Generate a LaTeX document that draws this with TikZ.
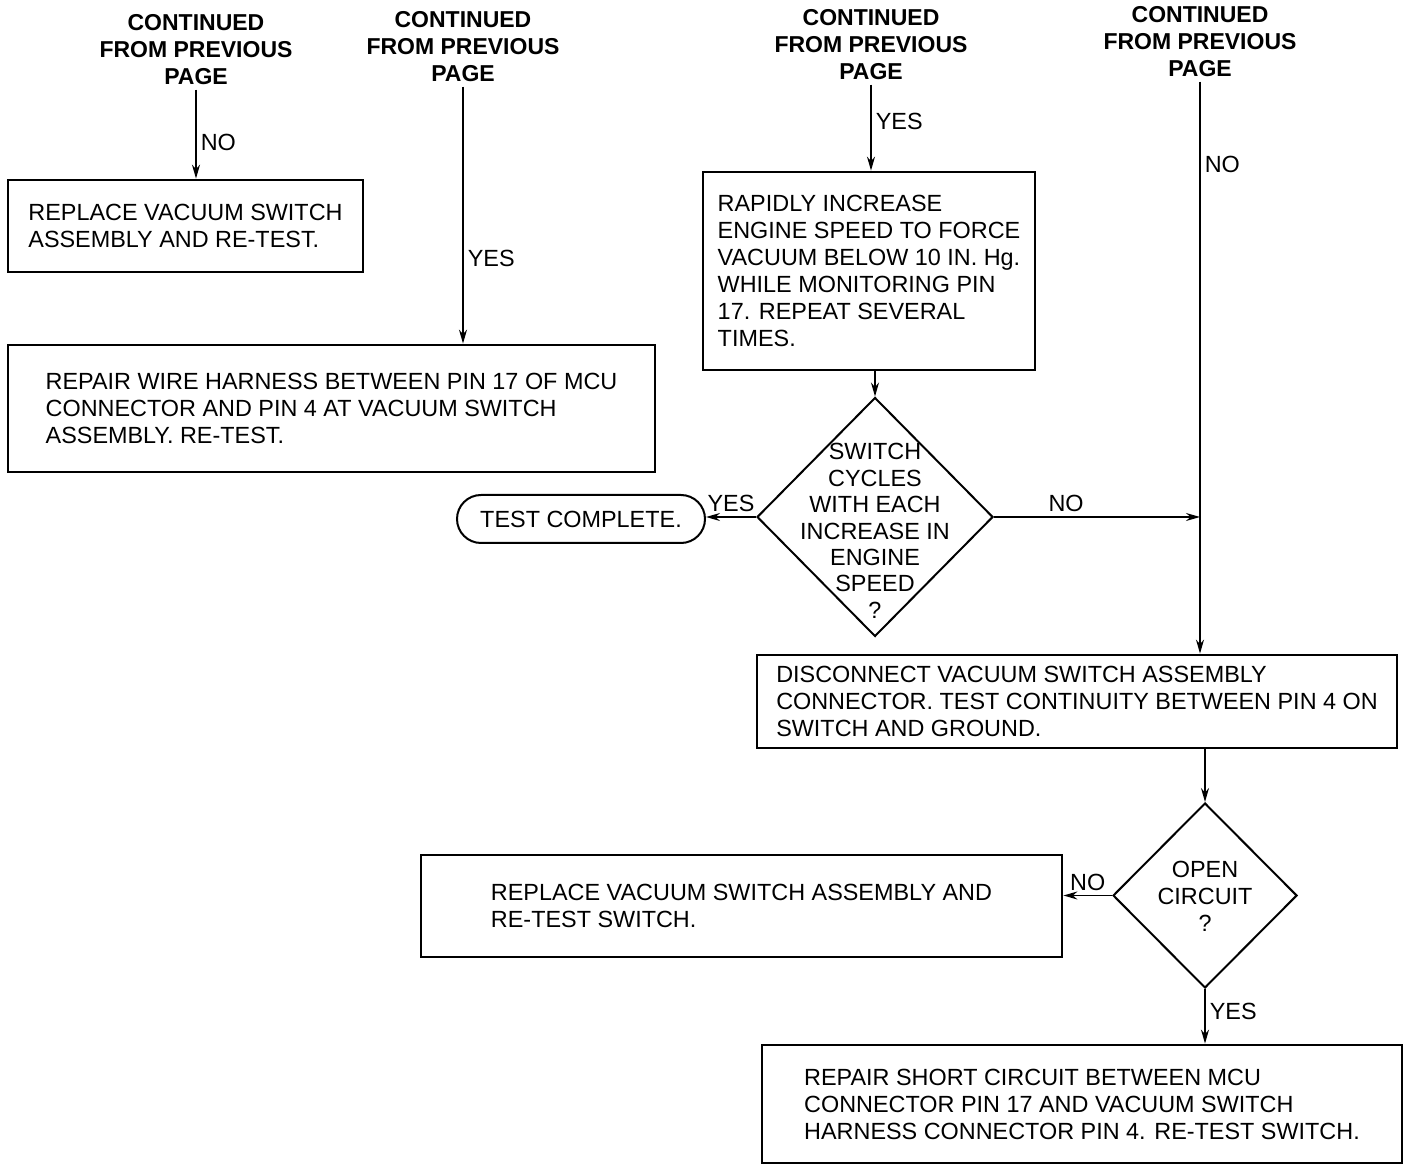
\documentclass[tikz,border=0pt]{standalone}
\usepackage{fontspec}
\setmainfont{Liberation Sans}
\usetikzlibrary{shapes.geometric,arrows.meta,calc}

\begin{document}
\begin{tikzpicture}[
        x=0.5pt, y=-0.5pt,
        every node/.style={font=\fontsize{11.7}{13.5}\selectfont},
        header/.style={align=center, inner sep=2pt, font=\bfseries\fontsize{11.5}{13.5}\selectfont},
        action/.style={draw, rectangle, line width=1.4pt, align=left, inner sep=0pt},
        decision/.style={draw, diamond, line width=1pt, inner sep=0pt},
        terminal/.style={draw, rectangle, rounded corners=12pt, line width=1pt, minimum width=124pt, minimum height=24pt},
        arrow/.style={-{Stealth[length=7pt,width=4pt]}, line width=0.8pt},
        lbl/.style={inner sep=2pt}
    ]
        \useasboundingbox (0,0) rectangle (1404,1165);

        % entries from the previous page
        \node[header] (from1) at (196,50) {CONTINUED\\FROM PREVIOUS\\PAGE};
        \node[header] (from2) at (463,47) {CONTINUED\\FROM PREVIOUS\\PAGE};
        \node[header] (from3) at (871,45) {CONTINUED\\FROM PREVIOUS\\PAGE};
        \node[header] (from4) at (1200,42) {CONTINUED\\FROM PREVIOUS\\PAGE};

        % steps
        \node[action, minimum width=177.5pt, minimum height=46pt] (replace1) at (185.5,226) {REPLACE VACUUM SWITCH\\ASSEMBLY AND RE-TEST.};
        \node[action, minimum width=323.5pt, minimum height=63.5pt] (repairwire) at (331.5,408.5) {REPAIR WIRE HARNESS BETWEEN PIN 17 OF MCU\\CONNECTOR AND PIN 4 AT VACUUM SWITCH\\ASSEMBLY. RE-TEST.};
        \node[action, minimum width=166pt, minimum height=99pt] (rapid) at (869,271) {RAPIDLY INCREASE\\ENGINE SPEED TO FORCE\\VACUUM BELOW 10 IN. Hg.\\WHILE MONITORING PIN\\17. REPEAT SEVERAL\\TIMES.};
        \node[decision, minimum width=118pt, minimum height=119.5pt] (cycles) at (875,517) {};
        \node[align=center, font=\fontsize{11.7}{13.2}\selectfont] (cyclestext) at (875,531) {SWITCH\\CYCLES\\WITH EACH\\INCREASE IN\\ENGINE\\SPEED\\?};
        \node[terminal] (done) at (581,519) {TEST COMPLETE.};
        \node[action, minimum width=320pt, minimum height=46.5pt] (disconnect) at (1077,701.5) {DISCONNECT VACUUM SWITCH ASSEMBLY\\CONNECTOR. TEST CONTINUITY BETWEEN PIN 4 ON\\SWITCH AND GROUND.};
        \node[decision, minimum width=92pt, minimum height=92.5pt] (open) at (1205,895.5) {};
        \node[align=center] (opentext) at (1205,896) {OPEN\\CIRCUIT\\?};
        \node[action, minimum width=320.5pt, minimum height=51pt] (replace2) at (741.5,906) {REPLACE VACUUM SWITCH ASSEMBLY AND\\RE-TEST SWITCH.};
        \node[action, minimum width=320pt, minimum height=59pt] (repairshort) at (1082,1104) {REPAIR SHORT CIRCUIT BETWEEN MCU\\CONNECTOR PIN 17 AND VACUUM SWITCH\\HARNESS CONNECTOR PIN 4. RE-TEST SWITCH.};

        \draw[arrow] (from1.south) -- node[lbl, right, pos=0.59] {NO} (from1.south |- replace1.north);
        \draw[arrow] (from2.south) -- node[lbl, right, pos=0.67] {YES} (from2.south |- repairwire.north);
        \draw[arrow] (from3.south) -- node[lbl, right, pos=0.43] {YES} (from3.south |- rapid.north);
        \draw[arrow] (rapid.south -| cycles.north) -- (cycles.north);
        \draw[arrow] (cycles.west) -- node[lbl, above] {YES} (cycles.west -| done.east);
        \draw[arrow] (cycles.east) -- node[lbl, above, pos=0.35] {NO} (cycles.east -| from4.south);
        \draw[arrow] (from4.south) -- node[lbl, right, pos=0.145] {NO} (from4.south |- disconnect.north);
        \draw[arrow] (disconnect.south -| open.north) -- (open.north);
        \draw[arrow] (open.west) -- node[lbl, above] {NO} (open.west -| replace2.east);
        \draw[arrow] (open.south) -- node[lbl, right, pos=0.42] {YES} (open.south |- repairshort.north);
    \end{tikzpicture}
\end{document}
